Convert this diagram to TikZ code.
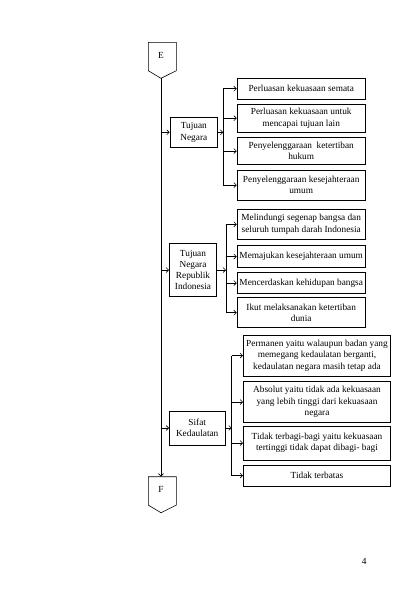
\documentclass[tikz,border=0pt]{standalone}
\usepackage{fontspec}
\setmainfont{Liberation Serif}
\usetikzlibrary{arrows.meta}

\begin{document}
\begin{tikzpicture}[x=1pt, y=-1pt, line width=0.6pt,
		font=\fontsize{9.3}{11.3}\selectfont,
		box/.style={draw, align=center, inner sep=1pt},
		group/.style={box, minimum width=#1},
		itemA/.style={box, minimum width=128.3},
		itemC/.style={box, minimum width=147.4},
		arr/.style={-{Straight Barb[length=2.5pt, width=5pt]}}]
			\useasboundingbox (0,0) rectangle (411,595);
			\foreach \y in {42.3, 476.7}
				\draw (148.3, \y) -- (176.3, \y) -- (176.3, \y+28.4) -- (161, \y+36) -- (148.3, \y+28.4) -- cycle;
			\node (E) at (161, 55) {E};
			\node (F) at (161, 489.5) {F};
			\coordinate (Ebot) at (161, 78.3);
			\coordinate (Ftop) at (161, 476.7);
			\draw[arr, line width=0.8pt] (Ebot) -- (Ftop);

			\node[group=47.7, minimum height=30] (tn) at (193.8, 132.3) {Tujuan\\Negara};
			\node[group=47.4, minimum height=53.4] (tnri) at (193, 270) {Tujuan\\Negara\\Republik\\Indonesia};
			\node[group=55.7, minimum height=34] (sk) at (197.2, 428) {Sifat\\Kedaulatan};
			\foreach \g in {tn, tnri, sk}
				\draw[arr] (Ebot |- \g.west) -- (\g.west);

			\node[itemA, minimum height=20.7] (a1) at (301.2, 88.7) {Perluasan kekuasaan semata};
			\node[itemA, minimum height=27.7] (a2) at (301.2, 118.2) {Perluasan kekuasaan untuk\\mencapai tujuan lain};
			\node[itemA, minimum height=26.6] (a3) at (301.2, 151) {Penyelenggaraan~ ketertiban\\hukum};
			\node[itemA, minimum height=30] (a4) at (301.2, 185) {Penyelenggaraan kesejahteraan\\umum};

			\node[itemA, minimum height=30] (b1) at (301.2, 224.3) {Melindungi segenap bangsa dan\\seluruh tumpah darah Indonesia};
			\node[itemA, minimum height=21.6] (b2) at (301.2, 256.5) {Memajukan kesejahteraan umum};
			\node[itemA, minimum height=21.4] (b3) at (301.2, 283) {Mencerdaskan kehidupan bangsa};
			\node[itemA, minimum height=30] (b4) at (301.2, 312.7) {Ikut melaksanakan ketertiban\\dunia};

			\node[itemC, minimum height=41] (c1) at (317, 355.5) {Permanen yaitu walaupun badan yang\\memegang kedaulatan berganti,\\kedaulatan negara masih tetap ada};
			\node[itemC, minimum height=40.6] (c2) at (317, 402) {Absolut yaitu tidak ada kekuasaan\\yang lebih tinggi dari kekuasaan\\negara};
			\node[itemC, minimum height=34] (c3) at (317, 443) {Tidak terbagi-bagi yaitu kekuasaan\\tertinggi tidak dapat dibagi- bagi};
			\node[itemC, minimum height=21] (c4) at (317, 475.5) {Tidak terbatas};

			\coordinate (brA) at (223.3, 0);
			\coordinate (brB) at (226, 0);
			\coordinate (brC) at (231.7, 0);
			\foreach \g/\br/\f/\l in {tn/brA/a1/a4, tnri/brB/b1/b4, sk/brC/c1/c4} {
				\draw[arr] (\g.east) -- (\g.east -| \br);
				\draw (\f.west -| \br) -- (\l.west -| \br);
			}
			\foreach \b/\br in {a1/brA, a2/brA, a3/brA, a4/brA, b1/brB, b2/brB, b3/brB, b4/brB, c1/brC, c2/brC, c3/brC, c4/brC}
				\draw[arr] (\b.west -| \br) -- (\b.west);

			\node (page) at (364.3, 561.7) {4};
		\end{tikzpicture}
\end{document}
